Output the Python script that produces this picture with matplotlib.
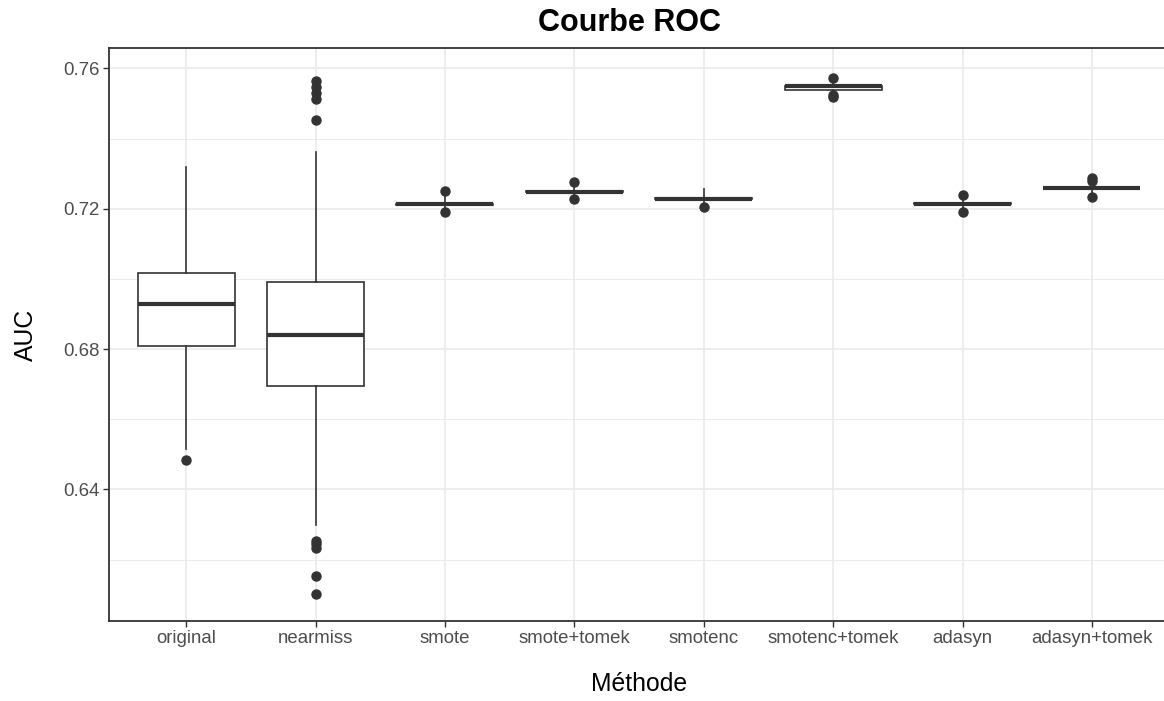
import matplotlib
matplotlib.use("Agg")
import matplotlib.pyplot as plt
from matplotlib.ticker import FixedLocator

plt.rcParams['font.family'] = ['Liberation Sans', 'DejaVu Sans']

methods = ["original", "nearmiss", "smote", "smote+tomek", "smotenc",
           "smotenc+tomek", "adasyn", "adasyn+tomek"]
q1 = [0.6810, 0.6696, 0.7212, 0.7248, 0.7228, 0.7538, 0.7214, 0.7258]
median = [0.6928, 0.6840, 0.7213, 0.7249, 0.7229, 0.7549, 0.7215, 0.7259]
q3 = [0.7018, 0.6991, 0.7214, 0.7250, 0.7230, 0.7551, 0.7216, 0.7260]
whisker_low = [0.6516, 0.6298, 0.7198, 0.7235, 0.7215, 0.7530, 0.7200, 0.7243]
whisker_high = [0.7318, 0.7361, 0.7244, 0.7265, 0.7256, 0.7562, 0.7232, 0.7270]
outliers = [
    [0.6483],
    [0.7563, 0.7547, 0.7530, 0.7514, 0.7452, 0.6254, 0.6243, 0.6232, 0.6154, 0.6102],
    [0.7251, 0.7190],
    [0.7275, 0.7228],
    [0.7204],
    [0.7572, 0.7525, 0.7520],
    [0.7240, 0.7192],
    [0.7287, 0.7278, 0.7234],
]

W, H = 1164, 701
fig = plt.figure(figsize=(W / 100, H / 100), dpi=100)
left_px, top_px, bottom_px = 108.5, 48, 621
width_px = 8.2 * 129.4
ax = fig.add_axes([left_px / W, 1 - bottom_px / H, width_px / W, (bottom_px - top_px) / H])

stats = []
for i, m in enumerate(methods):
    stats.append(dict(label=m, med=median[i], q1=q1[i], q3=q3[i],
                      whislo=whisker_low[i], whishi=whisker_high[i],
                      fliers=outliers[i]))

dark = "#333333"
positions = list(range(1, len(methods) + 1))
ax.bxp(stats, positions=positions, widths=0.75, showcaps=False, patch_artist=True,
       boxprops=dict(facecolor="white", edgecolor=dark, linewidth=1.2),
       whiskerprops=dict(color=dark, linewidth=1.2),
       medianprops=dict(color=dark, linewidth=3.0, solid_capstyle="butt"),
       flierprops=dict(marker="o", markerfacecolor=dark, markeredgecolor=dark,
                       markersize=6.5, linestyle="none"),
       zorder=3)

ax.set_xlim(0.4, 8.6)
ax.set_ylim(0.60248, 0.76584)
ax.set_xticks(positions)
ax.set_xticklabels(methods)
ax.yaxis.set_major_locator(FixedLocator([0.64, 0.68, 0.72, 0.76]))
ax.yaxis.set_minor_locator(FixedLocator([0.62, 0.66, 0.70, 0.74]))
ax.set_yticklabels(["0.64", "0.68", "0.72", "0.76"])

ax.grid(True, which="major", color="#EBEBEB", linewidth=1.2, zorder=0)
ax.grid(True, which="minor", axis="y", color="#EBEBEB", linewidth=0.7, zorder=0)
ax.set_axisbelow(True)

for s in ax.spines.values():
    s.set_color(dark)
    s.set_linewidth(1.3)

ax.tick_params(axis="both", which="major", length=4, width=1.0, color=dark,
               labelcolor="#4D4D4D", labelsize=13.4, pad=2.5)
ax.tick_params(axis="y", which="minor", length=0)

ax.set_xlabel("Méthode", fontsize=17.8, color="black", labelpad=18)
ax.set_ylabel("AUC", fontsize=17.8, color="black", labelpad=18)

fig.text((108.5 + 1042 / 2) / W, 1 - 31 / H, "Courbe ROC", ha="center", va="baseline",
         fontsize=22, fontweight="bold", color="black")

fig.savefig("out.png", dpi=100, facecolor="white")
